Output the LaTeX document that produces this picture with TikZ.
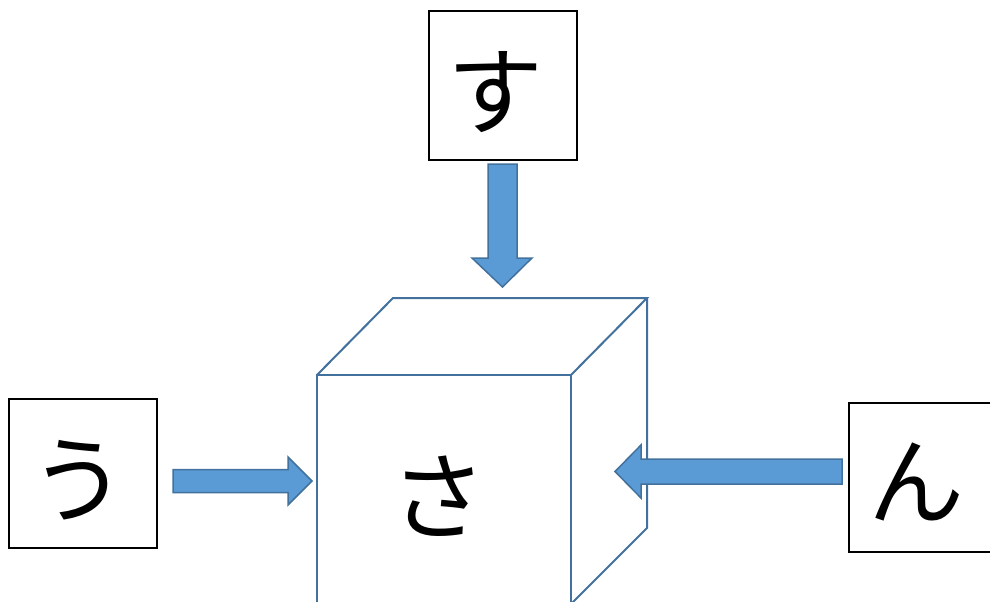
\documentclass[tikz,border=0pt]{standalone}
\usepackage{fontspec}
\newfontfamily\cjk{Noto Sans CJK JP}
\definecolor{arrfill}{HTML}{5B9BD5}
\definecolor{arrline}{HTML}{41719C}
\tikzset{
  charbox/.style={draw=black, line width=1.3pt, fill=white},
  bigchar/.style={font=\cjk\fontsize{96}{96}\selectfont, inner sep=0pt},
  blockarrow/.style={fill=arrfill, draw=arrline, line width=1.5pt, line join=miter},
  cubeline/.style={draw=arrline, line width=2pt, line join=miter}
}
\begin{document}
\begin{tikzpicture}[x=1pt,y=-1pt]
\useasboundingbox (0,0) rectangle (990,602);
\clip (0,0) rectangle (990,602);
% boxes
\draw[charbox] (429,11) rectangle (577,160);
\node[bigchar] (su) at (495,92) {す};
\draw[charbox] (9,399) rectangle (157,548);
\node[bigchar] (u) at (78,480) {う};
\draw[charbox] (849,403) rectangle (997,552);
\node[bigchar] (n) at (916,482) {ん};
% cube
\draw[cubeline] (317,610) -- (317,375) -- (571,375) -- (571,610);
\draw[cubeline] (317,375) -- (393,298) -- (647,298) -- (571,375);
\draw[cubeline] (647,298) -- (647,528) -- (567,608);
\node[bigchar] (sa) at (438,496) {さ};
% arrows
\draw[blockarrow] (488,164) -- (517,164) -- (517,258) -- (532,258) -- (502.5,287) -- (472,258) -- (488,258) -- cycle;
\draw[blockarrow] (173,469.5) -- (288,469.5) -- (288,457) -- (312,481) -- (288,505) -- (288,492.5) -- (173,492.5) -- cycle;
\draw[blockarrow] (842,459) -- (641,459) -- (641,445) -- (615,471.5) -- (641,498) -- (641,484) -- (842,484) -- cycle;
\end{tikzpicture}
\end{document}
